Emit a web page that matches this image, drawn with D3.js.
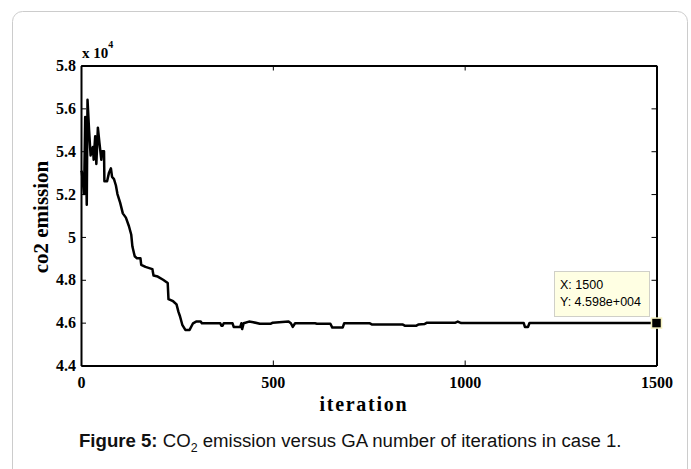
<!DOCTYPE html>
<html>
<head>
<meta charset="utf-8">
<script src="https://cdn.jsdelivr.net/npm/d3@7"></script>
<style>
  body { margin: 0; background: #fff; }
  svg { display: block; }
</style>
</head>
<body>
<svg id="chart" width="691" height="469"></svg>
<script>
// iteration number and co2 emission (x 10^4)
const iterations = [0, 2, 8, 11, 15, 17, 21, 25, 31, 33, 37, 40, 44, 48, 53, 55, 60, 61, 68, 73, 78, 81, 86, 91, 95,
  102, 109, 117, 125, 131, 134, 140, 146, 155, 157, 168, 186, 189, 200, 214, 226, 228, 240, 249, 254, 258, 264,
  272, 283, 292, 300, 312, 315, 363, 366, 369, 372, 375, 395, 398, 415, 418, 420, 424, 438, 449, 466, 495, 500,
  541, 547, 552, 558, 610, 615, 650, 655, 682, 686, 753, 759, 839, 845, 873, 879, 896, 902, 976, 982, 991,
  1154, 1157, 1165, 1169, 1500];
const emission = [5.30, 5.305, 5.20, 5.56, 5.15, 5.64, 5.50, 5.38, 5.42, 5.36, 5.47, 5.34, 5.51, 5.44, 5.36, 5.40, 5.40, 5.26, 5.26, 5.30, 5.32, 5.28, 5.27, 5.24, 5.20,
  5.16, 5.11, 5.09, 5.05, 5.01, 4.955, 4.91, 4.90, 4.90, 4.87, 4.86, 4.85, 4.82, 4.815, 4.80, 4.785, 4.71, 4.70, 4.685, 4.65, 4.63, 4.59,
  4.566, 4.566, 4.597, 4.605, 4.605, 4.597, 4.597, 4.585, 4.585, 4.597, 4.597, 4.597, 4.58, 4.58, 4.597, 4.57, 4.597, 4.605, 4.602, 4.595, 4.595, 4.60,
  4.605, 4.597, 4.58, 4.597, 4.597, 4.595, 4.595, 4.577, 4.577, 4.597, 4.597, 4.591, 4.591, 4.585, 4.585, 4.591, 4.594, 4.60, 4.60, 4.605, 4.598,
  4.598, 4.58, 4.58, 4.598, 4.598];
const xTicks = [0, 500, 1000, 1500];
const yTicks = [4.4, 4.6, 4.8, 5.0, 5.2, 5.4, 5.6, 5.8];
const tipX = 1500, tipY = 4.598;

const data = iterations.map((d, i) => ({it: d, v: emission[i]}));

const svg = d3.select('#chart');
const plotL = 81, plotR = 656.5, plotT = 65.5, plotB = 365.5;

const x = d3.scaleLinear().domain([0, 1500]).range([plotL, plotR]);
const y = d3.scaleLinear().domain([4.4, 5.8]).range([plotB, plotT]);

// outer card frame
svg.append('rect')
  .attr('x', 12.5).attr('y', 11.5)
  .attr('width', 675).attr('height', 480)
  .attr('rx', 10)
  .attr('fill', 'none')
  .attr('stroke', '#cccccc')
  .attr('stroke-width', 1);

const serif = '"Liberation Serif", "Times New Roman", serif';

// axes (ticks point inward, matlab style)
const axB = svg.append('g').attr('transform', `translate(0,${plotB})`)
  .call(d3.axisBottom(x).tickValues(xTicks).tickSizeInner(-5).tickSizeOuter(0)
    .tickFormat(d3.format('d')));
const axT = svg.append('g').attr('transform', `translate(0,${plotT})`)
  .call(d3.axisTop(x).tickValues(xTicks).tickSizeInner(-5).tickSizeOuter(0).tickFormat(''));
const axL = svg.append('g').attr('transform', `translate(${plotL},0)`)
  .call(d3.axisLeft(y).tickValues(yTicks).tickSizeInner(-5).tickSizeOuter(0)
    .tickFormat(d => String(+d.toFixed(1))));
const axR = svg.append('g').attr('transform', `translate(${plotR},0)`)
  .call(d3.axisRight(y).tickValues(yTicks).tickSizeInner(-5).tickSizeOuter(0).tickFormat(''));

[axB, axT, axL, axR].forEach(g => {
  g.attr('font-family', null).attr('font-size', null);
  g.select('.domain').attr('stroke', '#000').attr('stroke-width', 2);
  g.selectAll('.tick line').attr('stroke', '#000').attr('stroke-width', 1);
  g.selectAll('text')
    .style('font-family', serif)
    .style('font-weight', 'bold')
    .style('font-size', '16px')
    .attr('fill', '#000');
});
axB.selectAll('text').attr('dy', '0.71em').attr('y', 11);
axL.selectAll('text').attr('x', -5);

// x 10^4 multiplier
const mult = svg.append('text')
  .attr('x', 82).attr('y', 58)
  .style('font-family', serif)
  .style('font-weight', 'bold')
  .style('font-size', '15px');
mult.append('tspan').text('x 10');
mult.append('tspan').attr('dy', -10).style('font-size', '10px').text('4');

// line
svg.append('path')
  .datum(data)
  .attr('fill', 'none')
  .attr('stroke', '#000')
  .attr('stroke-width', 2.5)
  .attr('stroke-linejoin', 'round')
  .attr('d', d3.line().x(d => x(d.it)).y(d => y(d.v)));

// axis titles
svg.append('text')
  .attr('x', 363).attr('y', 411)
  .attr('text-anchor', 'middle')
  .style('font-family', serif)
  .style('font-weight', 'bold')
  .style('font-size', '20px')
  .attr('textLength', 87)
  .attr('lengthAdjust', 'spacing')
  .text('iteration');

svg.append('text')
  .attr('transform', 'translate(48,217) rotate(-90)')
  .attr('text-anchor', 'middle')
  .style('font-family', serif)
  .style('font-weight', 'bold')
  .style('font-size', '21px')
  .text('co2 emission');

// data tip
const tip = svg.append('g');
tip.append('rect')
  .attr('x', 554.5).attr('y', 271.5)
  .attr('width', 95).attr('height', 45)
  .attr('fill', '#ffffe3')
  .attr('stroke', '#d0d0c8');
tip.append('text')
  .attr('x', 560).attr('y', 289)
  .style('font-family', '"Liberation Sans", Arial, sans-serif')
  .style('font-size', '12.5px')
  .text(`X: ${tipX}`);
tip.append('text')
  .attr('x', 560).attr('y', 305.5)
  .style('font-family', '"Liberation Sans", Arial, sans-serif')
  .style('font-size', '12.5px')
  .text(`Y: ${tipY}e+004`);
tip.append('rect')
  .attr('x', x(tipX) - 5).attr('y', y(tipY) - 5)
  .attr('width', 10).attr('height', 10)
  .attr('fill', '#000')
  .attr('stroke', '#f4f0c0')
  .attr('stroke-width', 1.5);

// caption
const cap = svg.append('text')
  .style('font-family', '"Liberation Sans", Arial, sans-serif')
  .style('font-size', '18px')
  .attr('fill', '#111');
cap.append('tspan').style('font-weight', 'bold').text('Figure 5:');
cap.append('tspan').text(' CO');
cap.append('tspan').attr('dy', 5).style('font-size', '12px').text('2');
cap.append('tspan').attr('dy', -5).text(' emission versus GA number of iterations in case 1.');
const capW = cap.node().getComputedTextLength();
cap.attr('transform', `translate(79,447) scale(${543 / capW},1)`);
</script>
</body>
</html>
